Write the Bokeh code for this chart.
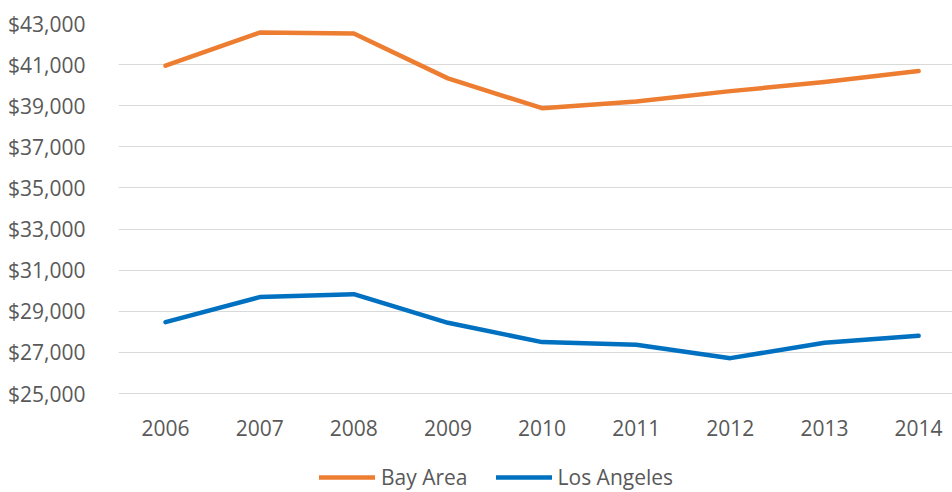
from bokeh.plotting import figure
from bokeh.models import Range1d, FixedTicker, NumeralTickFormatter, Legend, LegendItem
from bokeh.embed import file_html
from bokeh.resources import INLINE

years = [2006, 2007, 2008, 2009, 2010, 2011, 2012, 2013, 2014]
bay_area = [40950, 42560, 42510, 40330, 38880, 39210, 39710, 40150, 40690]
los_angeles = [28470, 29690, 29830, 28440, 27500, 27370, 26720, 27470, 27810]
y_ticks = [25000, 27000, 29000, 31000, 33000, 35000, 37000, 39000, 41000, 43000]
series_names = ["Bay Area", "Los Angeles"]

FONT = "Open Sans"
TXT = "#595959"

# frame runs to the bottom of the figure so that the legend can sit inside it;
# the category axis is pinned at the $25,000 line
p = figure(width=952, height=492, output_backend="svg", toolbar_location=None,
           x_range=Range1d(2005.5, 2014.36), y_range=Range1d(20184, 43000),
           min_border_left=118, min_border_right=0, min_border_top=23, min_border_bottom=0)
p.outline_line_color = None
p.background_fill_color = "white"
p.border_fill_color = "white"

r1 = p.line(years, bay_area, line_color="#ED7D31", line_width=4.5, line_cap="round", line_join="round")
r2 = p.line(years, los_angeles, line_color="#0070C0", line_width=4.5, line_cap="round", line_join="round")

p.xaxis.ticker = FixedTicker(ticks=years)
p.xaxis.fixed_location = y_ticks[0]
p.yaxis.ticker = FixedTicker(ticks=y_ticks)
p.yaxis.formatter = NumeralTickFormatter(format="$0,0")
for ax in (p.xaxis[0], p.yaxis[0]):
    ax.axis_line_color = None
    ax.major_tick_line_color = None
    ax.minor_tick_line_color = None
    ax.major_label_text_font = FONT
    ax.major_label_text_font_size = "21px"
    ax.major_label_text_color = TXT
p.yaxis.major_label_standoff = 27
p.xaxis.major_label_standoff = 20

p.xgrid.grid_line_color = None
p.ygrid.grid_line_color = "#D9D9D9"
p.ygrid.grid_line_width = 1

legend = Legend(items=[LegendItem(label=series_names[0], renderers=[r1]),
                       LegendItem(label=series_names[1], renderers=[r2])],
                orientation="horizontal", location=(201, 1),
                glyph_width=56, glyph_height=20, label_standoff=6, spacing=28,
                label_text_font=FONT, label_text_font_size="21px", label_text_color=TXT,
                border_line_color=None, background_fill_alpha=0, padding=0, margin=0)
p.add_layout(legend)

open("out.html", "w").write(file_html(p, INLINE))
